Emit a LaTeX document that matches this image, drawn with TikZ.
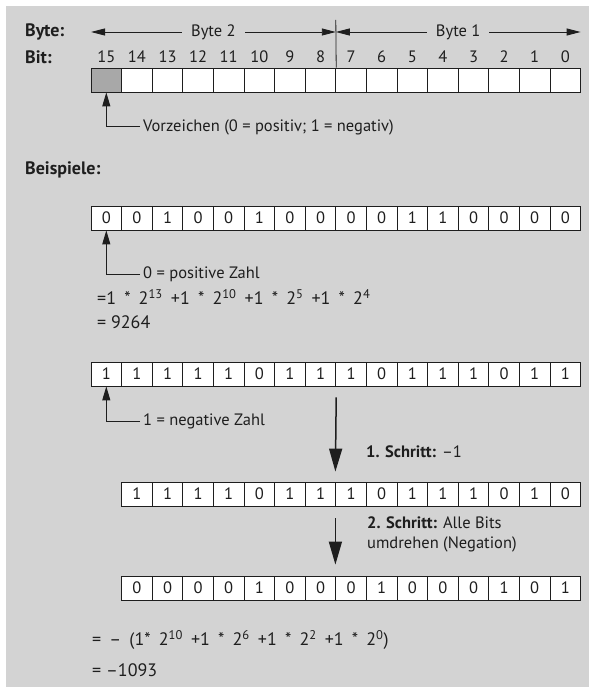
\documentclass[tikz,border=0pt]{standalone}
\usepackage{fontspec}
\setmainfont{PT Sans}
\newfontfamily\formfont[WordSpace=1.7]{PT Sans}
\usetikzlibrary{arrows.meta}
\definecolor{bg}{RGB}{211,211,211}
\definecolor{signc}{RGB}{168,168,168}
\definecolor{ink}{RGB}{30,30,30}
\begin{document}
\begin{tikzpicture}[x=1pt,y=-1pt,
  font=\fontsize{16.5}{19}\selectfont, text=ink,
  cell/.style={draw=ink, line width=0.8pt, minimum width=30.6pt, minimum height=24pt, inner sep=0pt, fill=white},
  lbl/.style={inner sep=0pt, anchor=west},
  head/.style={inner sep=0pt, anchor=west, font=\fontsize{18}{20}\selectfont\bfseries},
  formula/.style={inner sep=0pt, anchor=west, font=\formfont\fontsize{18}{20}\selectfont},
  result/.style={inner sep=0pt, anchor=west, font=\fontsize{18}{20}\selectfont},
  note/.style={inner xsep=3pt, inner ysep=0pt, anchor=west},
  sarr/.style={draw=ink, line width=1pt, -{Triangle[length=14pt,width=8pt]}},
  dblarr/.style={draw=ink, line width=0.9pt, {Triangle[length=14pt,width=7pt]}-{Triangle[length=14pt,width=7pt]}},
  bigarr/.style={draw=ink, line width=1.5pt, -{Triangle[length=23pt,width=13pt]}}]
\useasboundingbox (0,0) rectangle (589,687);
\fill[bg] (6,6) rectangle (589,687);

% header
\node[head] (byte) at (25,32) {Byte:};
\node[head] (bit) at (25,57) {Bit:};

\foreach \i in {0,...,15}{
  \ifnum\i=0 \def\cf{signc}\else\def\cf{white}\fi
  \node[cell, fill=\cf] (a\i) at ({91+30.6*\i+15.3},80) {};
  \pgfmathtruncatemacro\b{15-\i}
  \node[inner sep=0pt] (b\i) at ({91+30.6*\i+15.3},57) {\b};
}
\coordinate (divtop) at (335.8,20);
\draw[draw=ink, line width=0.8pt] (divtop) -- (a7.north east);
\coordinate (L) at (91,32);
\coordinate (M) at (335.8,32);
\coordinate (R) at (580.6,32);
\draw[dblarr] (L) -- (M) node[midway, fill=bg, inner xsep=9pt, inner ysep=1pt] (byte2) {Byte 2};
\draw[dblarr] (M) -- (R) node[midway, fill=bg, inner xsep=9pt, inner ysep=1pt] (byte1) {Byte 1};

\node[note] (vz) at (140,127) {Vorzeichen (0 = positiv; 1 = negativ)};
\draw[sarr] (vz.west) -| (a0.south);

% examples
\node[head] (bsp) at (25,170) {Beispiele:};

\foreach \v [count=\j from 0] in {0,0,1,0,0,1,0,0,0,0,1,1,0,0,0,0}{
  \node[cell] (c\j) at ({91+30.6*\j+15.3},218) {\v};
}
\node[note] (pz) at (140,274) {0 = positive Zahl};
\draw[sarr] (pz.west) -| (c0.south);
\node[formula] (f1) at (97,297) {=1 * 2\textsuperscript{13} +1 * 2\textsuperscript{10} +1 * 2\textsuperscript{5} +1 * 2\textsuperscript{4}};
\node[result] (f2) at (97,322) {= 9264};

\foreach \v [count=\j from 0] in {1,1,1,1,1,0,1,1,1,0,1,1,1,0,1,1}{
  \node[cell] (d\j) at ({91+30.6*\j+15.3},374) {\v};
}
\node[note] (nz) at (140,421) {1 = negative Zahl};
\draw[sarr] (nz.west) -| (d0.south);

\foreach \v [count=\j from 1] in {1,1,1,1,0,1,1,1,0,1,1,1,0,1,0}{
  \node[cell] (e\j) at ({91+30.6*\j+15.3},494) {\v};
}
\draw[bigarr] ([yshift=-11pt]d7.south east) -- ([yshift=10pt]e8.north west);
\node[lbl] (s1) at (366,452) {\textbf{1. Schritt:} –1};

\foreach \v [count=\j from 1] in {0,0,0,0,1,0,0,0,1,0,0,0,1,0,1}{
  \node[cell] (g\j) at ({91+30.6*\j+15.3},588) {\v};
}
\draw[bigarr] ([yshift=-12pt]e8.south west) -- ([yshift=11pt]g8.north west);
\node[lbl, align=left, font=\fontsize{16.5}{20}\selectfont] (s2) at (367,534.5) {\textbf{2. Schritt:} Alle Bits\\umdrehen (Negation)};

\node[formula] (f3) at (92,640) {= – (1* 2\textsuperscript{10} +1 * 2\textsuperscript{6} +1 * 2\textsuperscript{2} +1 * 2\textsuperscript{0})};
\node[result] (f4) at (92,670) {= –1093};
\end{tikzpicture}
\end{document}
